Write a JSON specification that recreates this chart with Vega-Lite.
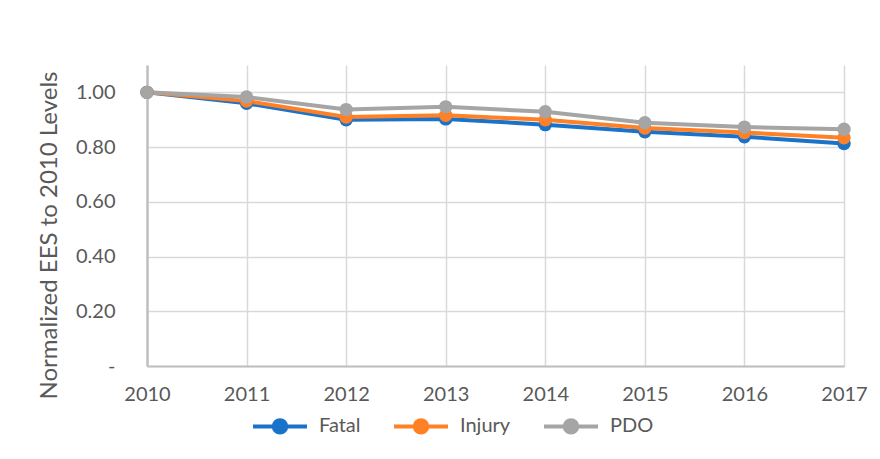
{
  "$schema": "https://vega.github.io/schema/vega-lite/v6.json",
  "width": 697,
  "height": 301,
  "autosize": {"type": "none"},
  "padding": {"left": 147, "top": 65, "right": 36, "bottom": 93},
  "background": "white",
  "data": {
    "values": [
      {"year": "2010", "type": "Fatal", "value": 1.0},
      {"year": "2011", "type": "Fatal", "value": 0.96},
      {"year": "2012", "type": "Fatal", "value": 0.9},
      {"year": "2013", "type": "Fatal", "value": 0.903},
      {"year": "2014", "type": "Fatal", "value": 0.882},
      {"year": "2015", "type": "Fatal", "value": 0.856},
      {"year": "2016", "type": "Fatal", "value": 0.838},
      {"year": "2017", "type": "Fatal", "value": 0.813},
      {"year": "2010", "type": "Injury", "value": 1.0},
      {"year": "2011", "type": "Injury", "value": 0.968},
      {"year": "2012", "type": "Injury", "value": 0.91},
      {"year": "2013", "type": "Injury", "value": 0.916},
      {"year": "2014", "type": "Injury", "value": 0.9},
      {"year": "2015", "type": "Injury", "value": 0.87},
      {"year": "2016", "type": "Injury", "value": 0.853},
      {"year": "2017", "type": "Injury", "value": 0.834},
      {"year": "2010", "type": "PDO", "value": 1.0},
      {"year": "2011", "type": "PDO", "value": 0.983},
      {"year": "2012", "type": "PDO", "value": 0.937},
      {"year": "2013", "type": "PDO", "value": 0.947},
      {"year": "2014", "type": "PDO", "value": 0.929},
      {"year": "2015", "type": "PDO", "value": 0.889},
      {"year": "2016", "type": "PDO", "value": 0.873},
      {"year": "2017", "type": "PDO", "value": 0.865}
    ]
  },
  "mark": {
    "type": "line",
    "strokeWidth": 4,
    "point": {"filled": true, "size": 180, "opacity": 1}
  },
  "encoding": {
    "x": {
      "field": "year",
      "type": "ordinal",
      "scale": {"type": "point", "padding": 0},
      "axis": {
        "title": null,
        "labelAngle": 0,
        "ticks": false,
        "grid": true,
        "gridColor": "#D9D9D9",
        "gridWidth": 1.5,
        "domainColor": "#BFBFBF",
        "domainWidth": 2,
        "labelPadding": 18,
        "labelFontSize": 20,
        "labelColor": "#595959",
        "labelFont": "Lato"
      }
    },
    "y": {
      "field": "value",
      "type": "quantitative",
      "scale": {"domain": [0, 1.1], "nice": false, "zero": true},
      "axis": {
        "title": "Normalized EES to 2010 Levels",
        "titleFont": "Lato",
        "titleFontSize": 24,
        "titleFontWeight": "normal",
        "titleColor": "#595959",
        "titlePadding": 14,
        "titleY": 170,
        "titleAlign": "center",
        "values": [0, 0.2, 0.4, 0.6, 0.8, 1.0],
        "labelExpr": "datum.value == 0 ? '-\u00a0\u00a0\u00a0\u00a0\u00a0' : format(datum.value, '.2f')",
        "ticks": false,
        "grid": true,
        "gridColor": "#D9D9D9",
        "gridWidth": 1.5,
        "domainColor": "#BFBFBF",
        "domainWidth": 2.5,
        "labelPadding": 32,
        "labelFontSize": 20,
        "labelColor": "#595959",
        "labelFont": "Lato"
      }
    },
    "color": {
      "field": "type",
      "type": "nominal",
      "scale": {"domain": ["Fatal", "Injury", "PDO"], "range": ["#1A73C9", "#FF8025", "#A5A5A5"]},
      "legend": {
        "title": null,
        "orient": "none",
        "legendX": 104,
        "legendY": 332,
        "direction": "horizontal",
        "symbolType": "M-1,0L1,0M-0.23,0A0.23,0.23,0,1,1,0.23,0A0.23,0.23,0,1,1,-0.23,0Z",
        "symbolSize": 2916,
        "symbolStrokeWidth": 4,
        "labelFont": "Lato",
        "labelFontSize": 20,
        "labelColor": "#595959",
        "labelOffset": 10,
        "columnPadding": 25,
        "encode": {
          "symbols": {"update": {"fill": {"scale": "color", "field": "value"}, "opacity": {"value": 1}}}
        }
      }
    }
  },
  "config": {"view": {"stroke": null}}
}
